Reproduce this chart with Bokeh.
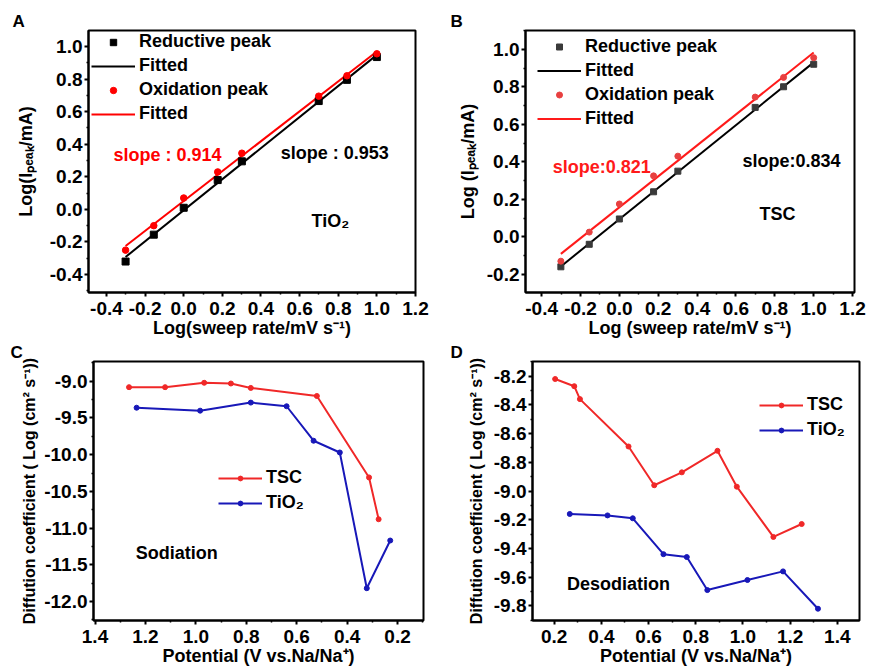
import numpy as np
from bokeh.plotting import figure
from bokeh.layouts import column, row
from bokeh.models import (Range1d, FixedTicker, NumeralTickFormatter, Legend,
                          LegendItem, Label)
from bokeh.embed import file_html
from bokeh.resources import INLINE

FONT = "Liberation Sans"

# ---------------- data ----------------
log_rate = [-0.301, -0.155, 0.0, 0.176, 0.301, 0.699, 0.845, 1.0]
a_reductive = [-0.32, -0.155, 0.01, 0.18, 0.295, 0.665, 0.795, 0.935]
a_oxidation = [-0.25, -0.10, 0.07, 0.23, 0.345, 0.695, 0.82, 0.955]
b_reductive = [-0.16, -0.04, 0.095, 0.24, 0.35, 0.69, 0.80, 0.92]
b_oxidation = [-0.13, 0.025, 0.175, 0.325, 0.43, 0.745, 0.85, 0.955]

c_tsc_v = [1.265, 1.122, 0.967, 0.861, 0.782, 0.520, 0.313, 0.275]
c_tsc_d = [-9.08, -9.08, -9.02, -9.03, -9.09, -9.20, -10.31, -10.88]
c_tio2_v = [1.235, 0.983, 0.782, 0.640, 0.533, 0.429, 0.322, 0.229]
c_tio2_d = [-9.36, -9.40, -9.29, -9.34, -9.81, -9.97, -11.82, -11.17]

d_tsc_v = [0.204, 0.285, 0.309, 0.515, 0.624, 0.741, 0.892, 0.974, 1.129, 1.249]
d_tsc_d = [-8.22, -8.27, -8.36, -8.69, -8.96, -8.87, -8.72, -8.97, -9.32, -9.23]
d_tio2_v = [0.266, 0.426, 0.533, 0.663, 0.762, 0.849, 1.019, 1.170, 1.318]
d_tio2_d = [-9.16, -9.17, -9.19, -9.44, -9.46, -9.69, -9.62, -9.56, -9.82]

# tick positions
ab_xticks = [-0.4, -0.2, 0.0, 0.2, 0.4, 0.6, 0.8, 1.0, 1.2]
ab_xminor = [-0.5, -0.3, -0.1, 0.1, 0.3, 0.5, 0.7, 0.9, 1.1]
a_yticks = [-0.4, -0.2, 0.0, 0.2, 0.4, 0.6, 0.8, 1.0]
a_yminor = [-0.5, -0.3, -0.1, 0.1, 0.3, 0.5, 0.7, 0.9, 1.1]
b_yticks = [-0.2, 0.0, 0.2, 0.4, 0.6, 0.8, 1.0]
b_yminor = [-0.3, -0.1, 0.1, 0.3, 0.5, 0.7, 0.9, 1.1]
cd_xticks = [0.2, 0.4, 0.6, 0.8, 1.0, 1.2, 1.4]
cd_xminor = [0.1, 0.3, 0.5, 0.7, 0.9, 1.1, 1.3, 1.5]
c_yticks = [-12.0, -11.5, -11.0, -10.5, -10.0, -9.5, -9.0]
c_yminor = [-12.25, -11.75, -11.25, -10.75, -10.25, -9.75, -9.25, -8.75]
d_yticks = [-9.8, -9.6, -9.4, -9.2, -9.0, -8.8, -8.6, -8.4, -8.2]
d_yminor = [-9.9, -9.7, -9.5, -9.3, -9.1, -8.9, -8.7, -8.5, -8.3, -8.1]


def make_fig(w, h, xr, yr, bl, br, bt, bb, letter, letter_offset):
    p = figure(width=w, height=h, x_range=Range1d(*xr), y_range=Range1d(*yr),
               output_backend="svg", toolbar_location=None,
               min_border_left=bl, min_border_right=br,
               min_border_top=bt, min_border_bottom=bb)
    p.outline_line_color = "black"
    p.outline_line_width = 2
    p.outline_line_alpha = 1
    p.xgrid.visible = False
    p.ygrid.visible = False
    p.background_fill_color = "white"
    p.border_fill_color = "white"
    p.title.text = letter
    p.title.align = "left"
    p.title.offset = letter_offset
    p.title.standoff = 0
    p.title.text_font = FONT
    p.title.text_font_style = "bold"
    p.title.text_font_size = "17px"
    p.title.text_color = "black"
    return p


def style_axes(p, xt, xm, yt, ym, xlabel, ylabel, xl_size, yl_size, y_standoff):
    p.xaxis.ticker = FixedTicker(ticks=xt, minor_ticks=xm)
    p.yaxis.ticker = FixedTicker(ticks=yt, minor_ticks=ym)
    p.xaxis.axis_label = xlabel
    p.yaxis.axis_label = ylabel
    for ax in (p.xaxis[0], p.yaxis[0]):
        ax.formatter = NumeralTickFormatter(format="0.0")
        ax.axis_line_width = 2
        ax.axis_line_color = "black"
        ax.major_tick_line_width = 2
        ax.major_tick_line_color = "black"
        ax.major_tick_out = 4
        ax.major_tick_in = 0
        ax.minor_tick_out = 2
        ax.minor_tick_in = 0
        ax.minor_tick_line_width = 1.5
        ax.minor_tick_line_color = "black"
        ax.major_label_text_font = FONT
        ax.major_label_text_font_style = "bold"
        ax.major_label_text_font_size = "19px"
        ax.major_label_text_color = "black"
        ax.axis_label_text_font = FONT
        ax.axis_label_text_font_style = "bold"
        ax.axis_label_text_color = "black"
    p.xaxis.major_label_standoff = 5
    p.yaxis.major_label_standoff = 2
    p.xaxis.axis_label_text_font_size = xl_size
    p.yaxis.axis_label_text_font_size = yl_size
    p.xaxis.axis_label_standoff = 0
    p.yaxis.axis_label_standoff = y_standoff


def add_text(p, x, y, text, color="black", size="18px"):
    p.add_layout(Label(x=x, y=y, text=text, text_color=color,
                       text_font=FONT, text_font_style="bold",
                       text_font_size=size, text_align="left",
                       text_baseline="middle"))


def make_legend(items, x, y, spacing, gh):
    return Legend(items=items, location=(x, y), border_line_alpha=0,
                  background_fill_alpha=0, label_text_font=FONT,
                  label_text_font_style="bold", label_text_font_size="18px",
                  label_text_color="black", glyph_width=44, glyph_height=gh,
                  label_height=20, spacing=spacing, padding=0, margin=0,
                  label_standoff=4)


def fit_line(x, y):
    k, b = np.polyfit(x, y, 1)
    xs = np.array([min(x), max(x)])
    return xs, k * xs + b


# ---------------- panel A ----------------
pa = make_fig(435, 340, (-0.493, 1.2), (-0.51, 1.098), 88, 20, 26, 48, "A", -76)
style_axes(pa, ab_xticks, ab_xminor, a_yticks, a_yminor,
           "Log(sweep rate/mV s\u207b\u00b9)", "Log(I\u209a\u2091\u2090\u2096/mA)",
           "18px", "18px", 11)
fx, fy = fit_line(log_rate, a_reductive)
la_k = pa.line(fx, fy, line_color="black", line_width=2)
fx, fy = fit_line(log_rate, a_oxidation)
la_r = pa.line(fx, fy, line_color="#ff0000", line_width=2)
sa = pa.scatter(log_rate, a_reductive, marker="square", size=7, color="black")
ca = pa.scatter(log_rate, a_oxidation, marker="circle", size=6.5, color="#ff0000")
pa.add_layout(make_legend([
    LegendItem(label="Reductive peak", renderers=[sa]),
    LegendItem(label="Fitted", renderers=[la_k]),
    LegendItem(label="Oxidation peak", renderers=[ca]),
    LegendItem(label="Fitted", renderers=[la_r])], 3, 168, 3, 16))
add_text(pa, -0.364, 0.331, "slope : 0.914", "#ff0000")
add_text(pa, 0.502, 0.345, "slope : 0.953")
add_text(pa, 0.662, -0.074, "TiO\u2082")

# ---------------- panel B ----------------
pb = make_fig(434, 340, (-0.483, 1.21), (-0.297, 1.10), 90, 15, 30, 48, "B", -75)
style_axes(pb, ab_xticks, ab_xminor, b_yticks, b_yminor,
           "Log (sweep rate/mV s\u207b\u00b9)", "Log (I\u209a\u2091\u2090\u2096/mA)",
           "18px", "18px", 6)
fx, fy = fit_line(log_rate, b_reductive)
lb_k = pb.line(fx, fy, line_color="black", line_width=2)
fx, fy = fit_line(log_rate, b_oxidation)
lb_r = pb.line(fx, fy, line_color="#ff1a1a", line_width=2)
sb = pb.scatter(log_rate, b_reductive, marker="square", size=6, color="#3a3a3a")
cb = pb.scatter(log_rate, b_oxidation, marker="circle", size=6, color="#e84040")
pb.add_layout(make_legend([
    LegendItem(label="Reductive peak", renderers=[sb]),
    LegendItem(label="Fitted", renderers=[lb_k]),
    LegendItem(label="Oxidation peak", renderers=[cb]),
    LegendItem(label="Fitted", renderers=[lb_r])], 12, 163, 3, 15))
add_text(pb, -0.343, 0.370, "slope:0.821", "#ff1a1a")
add_text(pb, 0.634, 0.402, "slope:0.834")
add_text(pb, 0.721, 0.122, "TSC")

# ---------------- panel C ----------------
RED = "#f02828"
BLUE = "#1818b8"
pc = make_fig(435, 328, (1.406, 0.097), (-12.26, -8.73), 93, 12, 19, 47, "C", -83)
style_axes(pc, cd_xticks, cd_xminor, c_yticks, c_yminor,
           "Potential (V vs.Na/Na\u207a)",
           "Diffution coefficient ( Log (cm\u00b2 s\u207b\u00b9))",
           "18px", "16px", 3)
lc1 = pc.line(c_tsc_v, c_tsc_d, line_color=RED, line_width=2)
mc1 = pc.scatter(c_tsc_v, c_tsc_d, marker="circle", size=5, color=RED)
lc2 = pc.line(c_tio2_v, c_tio2_d, line_color=BLUE, line_width=2)
mc2 = pc.scatter(c_tio2_v, c_tio2_d, marker="circle", size=5, color=BLUE)
pc.add_layout(make_legend([
    LegendItem(label="TSC", renderers=[lc1, mc1]),
    LegendItem(label="TiO\u2082", renderers=[lc2, mc2])], 125, 107, 4, 12))
add_text(pc, 1.238, -11.34, "Sodiation")

# ---------------- panel D ----------------
pd_ = make_fig(434, 328, (0.108, 1.494), (-9.902, -8.098), 97, 10, 19, 46, "D", -82)
style_axes(pd_, cd_xticks, cd_xminor, d_yticks, d_yminor,
           "Potential (V vs.Na/Na\u207a)",
           "Diffution coefficient ( Log (cm\u00b2 s\u207b\u00b9))",
           "18px", "16px", 6)
ld1 = pd_.line(d_tsc_v, d_tsc_d, line_color=RED, line_width=2)
md1 = pd_.scatter(d_tsc_v, d_tsc_d, marker="circle", size=5, color=RED)
ld2 = pd_.line(d_tio2_v, d_tio2_d, line_color=BLUE, line_width=2)
md2 = pd_.scatter(d_tio2_v, d_tio2_d, marker="circle", size=5, color=BLUE)
pd_.add_layout(make_legend([
    LegendItem(label="TSC", renderers=[ld1, md1]),
    LegendItem(label="TiO\u2082", renderers=[ld2, md2])], 227, 180, 4, 12))
add_text(pd_, 0.254, -9.647, "Desodiation")

layout = column(row(pa, pb), row(pc, pd_))
open("out.html", "w").write(file_html(layout, INLINE))
